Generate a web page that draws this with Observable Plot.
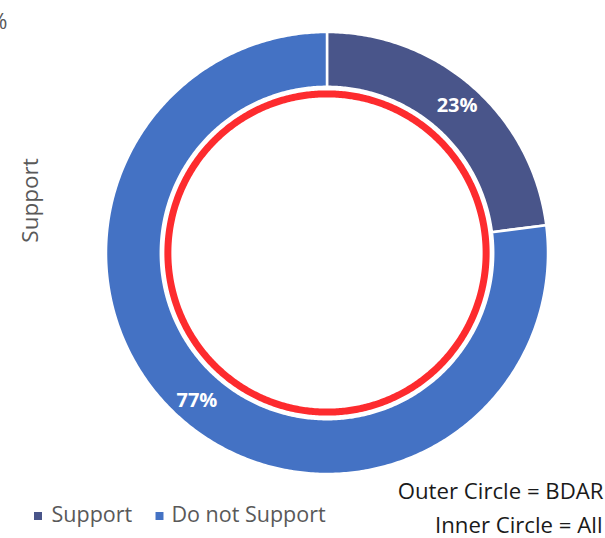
<!DOCTYPE html>
<html>
<head>
<meta charset="utf-8">
<script src="https://cdn.jsdelivr.net/npm/d3@7"></script>
<script src="https://cdn.jsdelivr.net/npm/@observablehq/plot@0.6"></script>
<style>
  html, body { margin: 0; padding: 0; background: #fff; }
  #chart { width: 605px; height: 538px; overflow: hidden; }
</style>
</head>
<body>
<div id="chart"></div>
<script>
// ---- data ----
const categories = ["Support", "Do not Support"];
const values = [23, 77];                 // outer circle (BDAR), percent
const sliceColors = ["#49558a", "#4472c4"];
const valueLabels = ["23%", "77%"];
const axisTitle = "Support";
const notes = ["Outer Circle = BDAR", "Inner Circle = All"];

// ---- geometry (chart units: outer radius = 1) ----
const innerR = 0.752;
const ringR = 0.72;      // red inner circle
const labelR = 0.89;

const pie = d3.pie().sort(null).value(d => d.value)(
  categories.map((c, i) => ({category: c, value: values[i], label: valueLabels[i]}))
);

function arcPoints(a0, a1, r0, r1, cat) {
  const n = Math.max(2, Math.ceil((a1 - a0) / 0.01));
  const pts = [];
  for (let k = 0; k <= n; k++) {
    const a = a0 + (a1 - a0) * k / n;
    pts.push({category: cat, x: r1 * Math.sin(a), y: r1 * Math.cos(a)});
  }
  for (let k = n; k >= 0; k--) {
    const a = a0 + (a1 - a0) * k / n;
    pts.push({category: cat, x: r0 * Math.sin(a), y: r0 * Math.cos(a)});
  }
  return pts;
}
const slicePts = pie.flatMap(p => arcPoints(p.startAngle, p.endAngle, innerR, 1, p.data.category));
const ringPts = d3.range(0, 2 * Math.PI + 0.01, 0.01).map(a => ({x: ringR * Math.sin(a), y: ringR * Math.cos(a)}));
const labelPts = pie.map(p => {
  const a = (p.startAngle + p.endAngle) / 2;
  return {label: p.data.label, x: labelR * Math.sin(a), y: labelR * Math.cos(a)};
});

const cx = 326.5, cy = 252.5, R = 221;
const font = "'Open Sans', sans-serif";
const T = {frameAnchor: "top-left", lineAnchor: "middle"};

const chart = Plot.plot({
  width: 605,
  height: 538,
  margin: 0,
  style: {fontFamily: font, background: "white", overflow: "visible"},
  x: {domain: [-1, 1], range: [cx - R, cx + R], axis: null},
  y: {domain: [-1, 1], range: [cy + R, cy - R], axis: null},
  color: {domain: categories, range: sliceColors},
  marks: [
    Plot.line(slicePts, {x: "x", y: "y", z: "category", fill: "category", stroke: "white", strokeWidth: 2.5, curve: "linear-closed"}),
    Plot.line(ringPts, {x: "x", y: "y", stroke: "#fd2b2e", strokeWidth: 7, fill: "none", curve: "linear-closed"}),
    Plot.text(labelPts, {x: "x", y: "y", text: "label", fill: "white", fontWeight: "bold", fontSize: 20}),
    // axis title (rotated) and clipped percent mark at top-left
    Plot.text([axisTitle], {...T, dx: 30, dy: 200, rotate: -90, textAnchor: "middle", fontSize: 22.5, fill: "#595959"}),
    Plot.text(["%"], {...T, dx: 7, dy: 21, textAnchor: "end", fontSize: 22, fill: "#595959"}),
    // legend
    Plot.dot([categories[0]], {frameAnchor: "top-left", dx: 37.5, dy: 515.5, symbol: "square", r: 4.5, fill: sliceColors[0]}),
    Plot.text([categories[0]], {...T, dx: 51, dy: 515, textAnchor: "start", fontSize: 21.5, fill: "#595959"}),
    Plot.dot([categories[1]], {frameAnchor: "top-left", dx: 159, dy: 515.5, symbol: "square", r: 4.5, fill: sliceColors[1]}),
    Plot.text([categories[1]], {...T, dx: 171, dy: 515, textAnchor: "start", fontSize: 21.5, fill: "#595959"}),
    // notes
    Plot.text([notes[0]], {...T, dx: 603, dy: 491, textAnchor: "end", fontSize: 22.2, fill: "#1a1a1a"}),
    Plot.text([notes[1]], {...T, dx: 602, dy: 525, textAnchor: "end", fontSize: 22.2, fill: "#1a1a1a"})
  ]
});
document.getElementById("chart").appendChild(chart);
</script>
</body>
</html>
